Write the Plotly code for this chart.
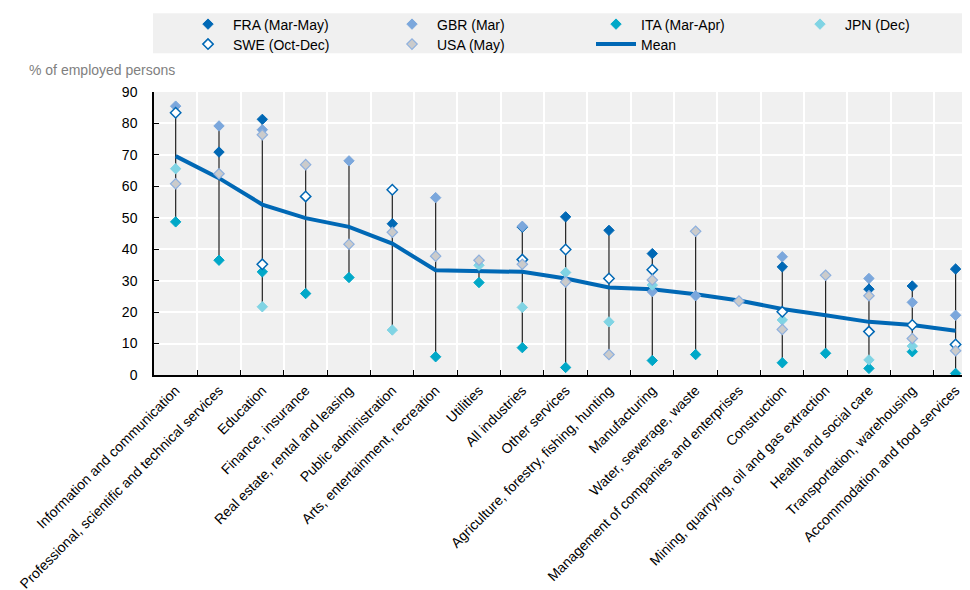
import plotly.graph_objects as go

categories = [
    "Information and communication",
    "Professional, scientific and technical services",
    "Education",
    "Finance, insurance",
    "Real estate, rental and leasing",
    "Public administration",
    "Arts, entertainment, recreation",
    "Utilities",
    "All industries",
    "Other services",
    "Agriculture, forestry, fishing, hunting",
    "Manufacturing",
    "Water, sewerage, waste",
    "Management of companies and enterprises",
    "Construction",
    "Mining, quarrying, oil and gas extraction",
    "Health and social care",
    "Transportation, warehousing",
    "Accommodation and food services",
]

FRA = [None, 70.9, 81.3, None, None, 48.1, None, None, 47.0, 50.3, 46.0, 38.6, None, None, 34.4, None, 27.3, 28.3, 33.7]
GBR = [85.5, 79.2, 78.0, None, 68.1, None, 56.4, None, 47.3, None, None, 26.5, 25.2, None, 37.6, None, 30.7, 23.1, 19.0]
ITA = [48.7, 36.5, 32.8, 25.9, 31.0, None, 5.8, 29.4, 8.7, 2.4, None, 4.6, 6.5, None, 3.9, 6.9, 2.1, 7.4, 0.5]
JPN = [65.6, None, 21.7, None, None, 14.3, None, 34.9, 21.5, 32.6, 16.9, 28.6, None, None, 17.5, None, 4.8, 9.2, None]
SWE = [83.4, None, 35.2, 56.8, None, 58.9, None, None, 36.7, 39.9, 30.7, 33.5, None, None, 20.1, None, 13.8, 15.9, 9.7]
USA = [60.8, 64.0, 76.4, 66.9, 41.6, 45.4, 37.8, 36.5, 35.2, 29.6, 6.5, 30.2, 45.7, 23.5, 14.5, 31.7, 25.2, 11.6, 7.7]
MEAN = [69.6, 62.6, 54.2, 49.9, 47.1, 41.8, 33.3, 33.1, 32.8, 30.7, 27.8, 27.3, 25.7, 23.7, 21.0, 19.0, 16.9, 15.9, 14.1]

y_ticks = [0, 10, 20, 30, 40, 50, 60, 70, 80, 90]

FONT = "Liberation Sans, Arial, sans-serif"

# name, values, fill, edge, edge width, legend row, legend item width
series = [
    ("FRA (Mar-May)", FRA, "#0068b5", "#0068b5", 1, "legend", 149),
    ("GBR (Mar)", GBR, "#7ba7dc", "#7ba7dc", 1, "legend", 149),
    ("ITA (Mar-Apr)", ITA, "#00a8c8", "#00a8c8", 1, "legend", 149),
    ("JPN (Dec)", JPN, "#80d4e4", "#80d4e4", 1, "legend", 80),
    ("SWE (Oct-Dec)", SWE, "#ffffff", "#0068b5", 1.5, "legend2", 149),
    ("USA (May)", USA, "#cbcbcb", "#8eb0de", 1.2, "legend2", 149),
]

# range lines (min to max per category)
rx, ry = [], []
for i, c in enumerate(categories):
    vals = [s[1][i] for s in series if s[1][i] is not None]
    if len(vals) >= 2:
        rx += [c, c, None]
        ry += [min(vals), max(vals), None]

fig = go.Figure()
fig.add_trace(go.Scatter(x=rx, y=ry, mode="lines", line=dict(color="#222222", width=1.2),
                         showlegend=False, hoverinfo="skip"))
fig.add_trace(go.Scatter(x=categories, y=MEAN, mode="lines", name="Mean",
                         line=dict(color="#0068b5", width=4), legend="legend2",
                         legendrank=3000, legendwidth=60))
for name, vals, fill, edge, lw, leg, lwid in series:
    fig.add_trace(go.Scatter(
        x=categories, y=vals, mode="markers", name=name, legend=leg, legendwidth=lwid,
        marker=dict(symbol="diamond", size=8, color=fill, line=dict(color=edge, width=lw)),
    ))

# page body adds an 8px offset; margins compensate so the plot starts at x=154, y=92..375
OFF = 8
W, H = 978, 590
L, R, T, B = 154 - OFF, 0, 92 - OFF, 215 + OFF
pw, ph = W - L - R, H - T - B
STEP = 43.33  # pixels per category
x_max = -0.5 + pw / STEP

def px(sx):
    return (sx - OFF - L) / pw

def py(sy):
    return (H - B - (sy - OFF)) / ph

leg_common = dict(orientation="h", itemwidth=40,
                  font=dict(family=FONT, size=14, color="#000000"), bgcolor="rgba(0,0,0,0)",
                  xanchor="left", yanchor="middle", tracegroupgap=0)

fig.update_layout(
    width=W, height=H,
    margin=dict(l=L, r=R, t=T, b=B, autoexpand=False),
    paper_bgcolor="#ffffff",
    plot_bgcolor="#f0f0f0",
    font=dict(family=FONT, size=14, color="#000000"),
    legend=dict(x=px(183), y=py(24.5), **leg_common),
    legend2=dict(x=px(183), y=py(44.5), **leg_common),
    shapes=[dict(type="rect", xref="paper", yref="paper", x0=px(153), x1=1.0, y0=py(53.3), y1=py(13.3),
                 fillcolor="#f0f0f0", line=dict(width=0), layer="below")],
    annotations=[dict(text="% of employed persons", xref="paper", yref="paper", x=px(177), y=py(70),
                      xanchor="right", yanchor="middle", showarrow=False,
                      font=dict(family=FONT, size=14, color="#7f7f7f"))],
    showlegend=True,
)
fig.update_xaxes(
    type="category", categoryorder="array", categoryarray=categories,
    range=[-0.5, x_max], tickson="boundaries", ticks="inside", ticklen=5, tickcolor="#000000",
    showgrid=True, gridcolor="#ffffff", gridwidth=1.5,
    showline=True, linecolor="#000000", linewidth=1.5,
    tickangle=-45, tickfont=dict(family=FONT, size=14, color="#000000"),
    zeroline=False, fixedrange=True, automargin=False,
)
fig.update_yaxes(
    range=[0, 90], tickvals=y_ticks, ticks="inside", ticklen=5, tickcolor="#000000",
    showgrid=True, gridcolor="#ffffff", gridwidth=1.5,
    showline=True, linecolor="#000000", linewidth=1.5,
    tickfont=dict(family=FONT, size=14, color="#000000"), ticklabelstandoff=12,
    zeroline=False, fixedrange=True, automargin=False,
)

fig.write_html("out.html")
